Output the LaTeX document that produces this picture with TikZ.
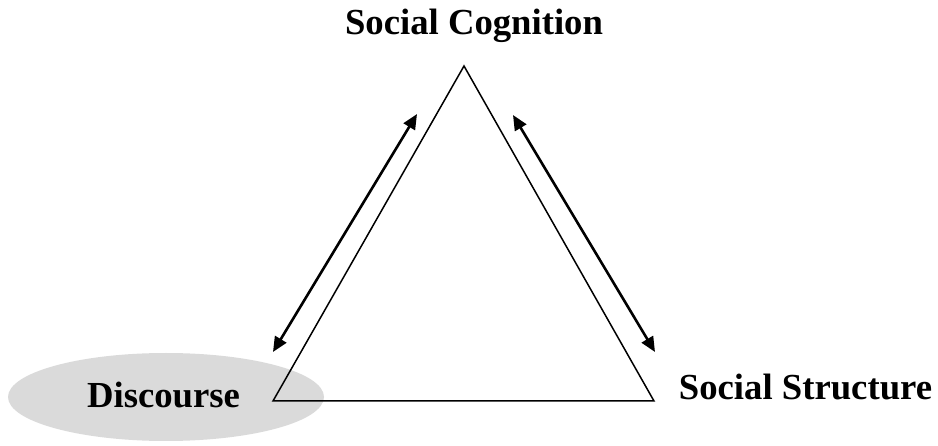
\documentclass[tikz,border=0pt]{standalone}
\usepackage{fontspec}
\setmainfont{Liberation Serif}
\usetikzlibrary{arrows.meta}
\definecolor{blobgray}{RGB}{218,218,218}
\begin{document}
\begin{tikzpicture}[x=1pt,y=-1pt,
  lbl/.style={font=\fontsize{36.7}{40}\selectfont\bfseries, anchor=base, inner sep=0pt},
  edge/.style={line width=1.5pt, line join=miter},
  dbl/.style={line width=2.6pt, {Triangle[length=15pt,width=13pt]}-{Triangle[length=15pt,width=13pt]}}]
\useasboundingbox (0,0) rectangle (938,446);
\fill[blobgray] (166,397) ellipse [x radius=158, y radius=44];
\coordinate (A) at (464,66);
\coordinate (B) at (273,401);
\coordinate (C) at (654,401);
\draw[edge] (A) -- (B) -- (C) -- cycle;
\coordinate (l1) at (273,352);
\coordinate (l2) at (417,114);
\coordinate (r1) at (513,115);
\coordinate (r2) at (655,352);
\draw[dbl] (l1) -- (l2);
\draw[dbl] (r1) -- (r2);
\node[lbl] (cog) at (474,35) {Social Cognition};
\node[lbl] (dis) at (163.5,408) {Discourse};
\node[lbl] (str) at (805.5,400) {Social Structure};
\end{tikzpicture}
\end{document}
